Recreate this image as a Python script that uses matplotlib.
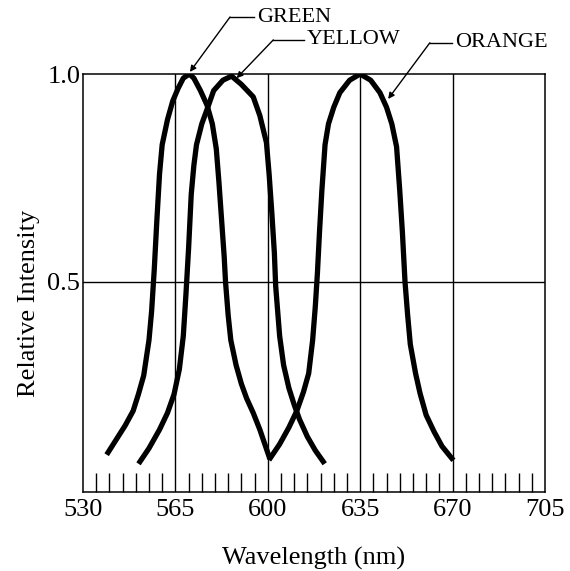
import numpy as np
import matplotlib
matplotlib.use('Agg')
import matplotlib.pyplot as plt

plt.rcParams['font.family'] = ['Liberation Serif', 'DejaVu Serif']

# spectra (wavelength nm, relative intensity)
green_x = [539.5, 543, 546, 549, 551, 553, 555, 556, 557, 558, 559, 560, 562, 564, 566, 568, 570.3,
           572, 574.5, 577, 579, 580.5, 581.5, 582.5, 583.5, 584, 585, 586, 588, 590, 592, 594.5, 597, 600.5]
green_y = [0.09, 0.125, 0.155, 0.19, 0.23, 0.275, 0.36, 0.43, 0.53, 0.65, 0.76, 0.83, 0.89, 0.935, 0.965, 0.99, 1.0,
           0.99, 0.96, 0.925, 0.88, 0.82, 0.74, 0.65, 0.56, 0.50, 0.42, 0.36, 0.30, 0.255, 0.22, 0.185, 0.145, 0.08]

yellow_x = [551.6, 555, 559, 562, 564.5, 566.5, 568, 569, 570, 571, 572, 573, 575, 577, 579.5, 583, 586.3,
            590, 594.5, 597, 599.5, 600.5, 601.5, 602.5, 603, 604.5, 606, 608, 610, 612, 615, 618, 621]
yellow_y = [0.068, 0.10, 0.145, 0.185, 0.23, 0.29, 0.37, 0.47, 0.58, 0.71, 0.78, 0.83, 0.88, 0.915, 0.96, 0.985, 0.995,
            0.975, 0.945, 0.90, 0.835, 0.76, 0.67, 0.57, 0.49, 0.37, 0.30, 0.245, 0.205, 0.17, 0.128, 0.095, 0.068]

orange_x = [601, 604.5, 608, 611, 613.5, 615.5, 617, 618, 618.8, 619.6, 620.5, 621.7, 623, 625, 627.3, 631, 635,
            639, 642.5, 645, 647, 648.8, 650, 651, 652, 653, 654, 656, 657.7, 660, 663, 666, 669.7]
orange_y = [0.077, 0.11, 0.15, 0.19, 0.235, 0.28, 0.36, 0.44, 0.52, 0.62, 0.72, 0.83, 0.88, 0.92, 0.955, 0.985, 1.0,
            0.985, 0.955, 0.92, 0.88, 0.825, 0.72, 0.62, 0.50, 0.42, 0.35, 0.28, 0.232, 0.18, 0.14, 0.105, 0.076]

x_ticks = [530, 565, 600, 635, 670, 705]
y_ticks = [0.5, 1.0]

fig = plt.figure(figsize=(5.7, 5.71), dpi=100)
ax = fig.add_axes([0.1456, 0.1384, 0.8104, 0.732])

for xs, ys in [(green_x, green_y), (yellow_x, yellow_y), (orange_x, orange_y)]:
    ax.plot(xs, ys, color='black', lw=3.8, solid_joinstyle='round', zorder=3)

ax.set_xlim(530, 705)
ax.set_ylim(-0.005, 1.0)
for x in x_ticks[1:-1]:
    ax.axvline(x, color='black', lw=1.0, zorder=1)
ax.axhline(0.5, color='black', lw=1.0, zorder=1)

ax.set_xticks(x_ticks)
ax.set_xticks(np.arange(535, 705, 5), minor=True)
ax.set_yticks(y_ticks)
ax.set_yticklabels(['0.5', '1.0'])
ax.tick_params(axis='x', which='major', length=0, labelsize=19, pad=5)
ax.tick_params(axis='x', which='minor', direction='in', length=13.5, width=1.0)
ax.tick_params(axis='y', length=0, labelsize=19, pad=2)
for s in ax.spines.values():
    s.set_linewidth(1.1)

ax.set_xlabel('Wavelength (nm)', fontsize=19, labelpad=19)
ax.set_ylabel('Relative Intensity', fontsize=19)
ax.yaxis.set_label_coords(-0.094, 0.452)

# callouts: (label, text start, elbow, tip)
callouts = [('GREEN', (595.8, 1.137), (585.7, 1.137), (570.5, 1.005)),
            ('YELLOW', (614.7, 1.082), (602.1, 1.082), (588.2, 0.99)),
            ('ORANGE', (670.9, 1.075), (661.4, 1.075), (645.6, 0.94))]
for label, txt, elbow, tip in callouts:
    ax.plot([elbow[0], txt[0] - 1.0], [elbow[1], elbow[1]], color='black', lw=1.0, clip_on=False)
    ax.annotate('', xy=tip, xytext=elbow, annotation_clip=False,
                arrowprops=dict(arrowstyle='-|>', color='black', lw=1.0,
                                mutation_scale=9, shrinkA=0, shrinkB=0))
    ax.text(txt[0], txt[1], label, fontsize=16, ha='left', va='center', clip_on=False)

fig.savefig('out.png', dpi=100)
